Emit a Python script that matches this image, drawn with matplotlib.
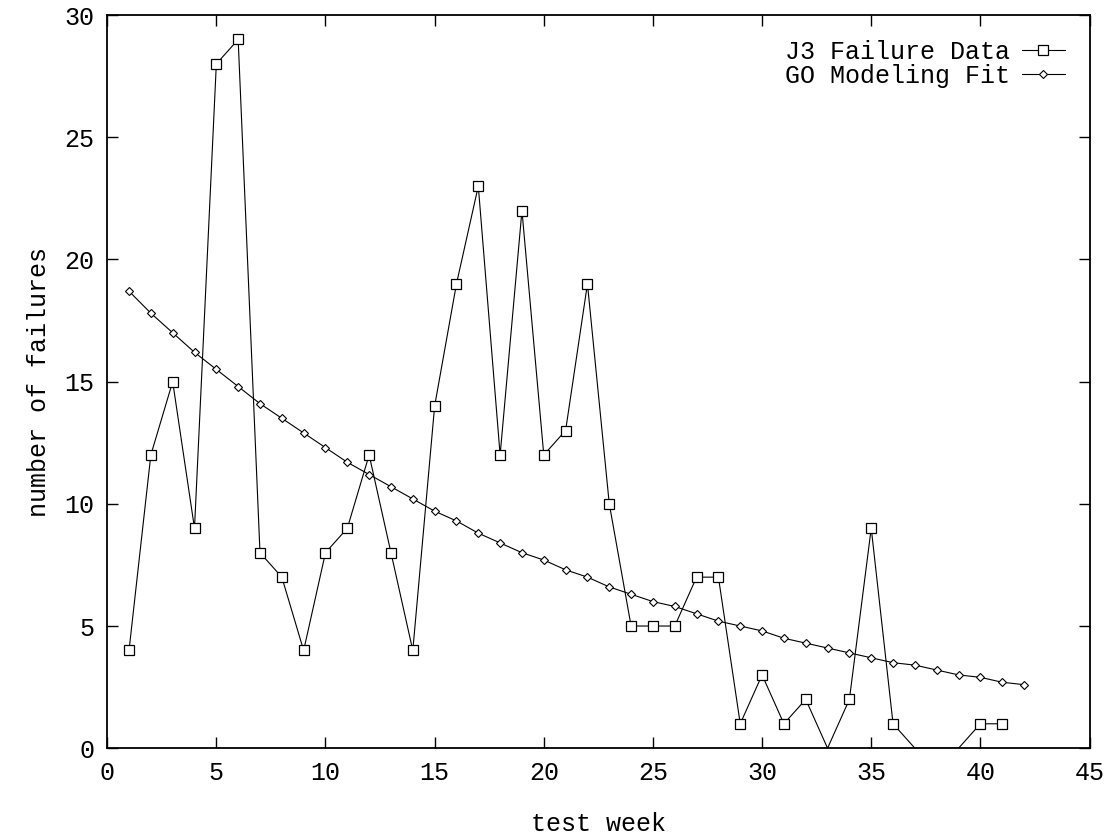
import numpy as np
import matplotlib
matplotlib.use('Agg')
import matplotlib.pyplot as plt

plt.rcParams['font.family'] = ['Liberation Mono', 'DejaVu Sans Mono']

# J3 failure data, weeks 1..41
weeks = np.arange(1, 42)
failures = [4, 12, 15, 9, 28, 29, 8, 7, 4, 8, 9, 12, 8, 4, 14, 19, 23, 12, 22, 12,
            13, 19, 10, 5, 5, 5, 7, 7, 1, 3, 1, 2, 0, 2, 9, 1, 0, 0, 0, 1, 1]

# GO model fit, weeks 1..42
fit_weeks = np.arange(1, 43)
fit_vals = [18.7, 17.8, 17.0, 16.2, 15.5, 14.8, 14.1, 13.5, 12.9, 12.3, 11.7, 11.2,
            10.7, 10.2, 9.7, 9.3, 8.8, 8.4, 8.0, 7.7, 7.3, 7.0, 6.6, 6.3, 6.0, 5.8,
            5.5, 5.2, 5.0, 4.8, 4.5, 4.3, 4.1, 3.9, 3.7, 3.5, 3.4, 3.2, 3.0, 2.9,
            2.7, 2.6]

# points sitting on the x axis get no marker (clipped in the original)
shown = [i for i, v in enumerate(failures) if v > 0]

fig = plt.figure(figsize=(11.05, 8.36), dpi=100)
ax = fig.add_axes([0.097, 0.105, 0.889, 0.877])

ax.plot(weeks, failures, marker='s', markersize=7, markerfacecolor='white',
        markeredgecolor='black', markeredgewidth=0.9, color='black', linewidth=0.8,
        markevery=shown, label='J3 Failure Data')
ax.plot(fit_weeks, fit_vals, marker='D', markersize=4.5, markerfacecolor='white',
        markeredgecolor='black', markeredgewidth=0.8, color='black', linewidth=0.8,
        label='GO Modeling Fit')

ax.set_xlim(0, 45)
ax.set_ylim(0, 30)
ax.set_xticks(range(0, 46, 5))
ax.set_yticks(range(0, 31, 5))
ax.tick_params(direction='in', top=True, right=True, length=8, width=1,
               labelsize=18, pad=9)
for s in ax.spines.values():
    s.set_linewidth(1.3)

ax.set_xlabel('test week', fontsize=18, labelpad=20)
ax.set_ylabel('number of failures', fontsize=18, labelpad=10)

ax.legend(loc='upper right', frameon=False, markerfirst=False, fontsize=18,
          handlelength=1.7, handletextpad=0.5, borderaxespad=0.6,
          labelspacing=0.0)

fig.savefig('out.png', dpi=100)
